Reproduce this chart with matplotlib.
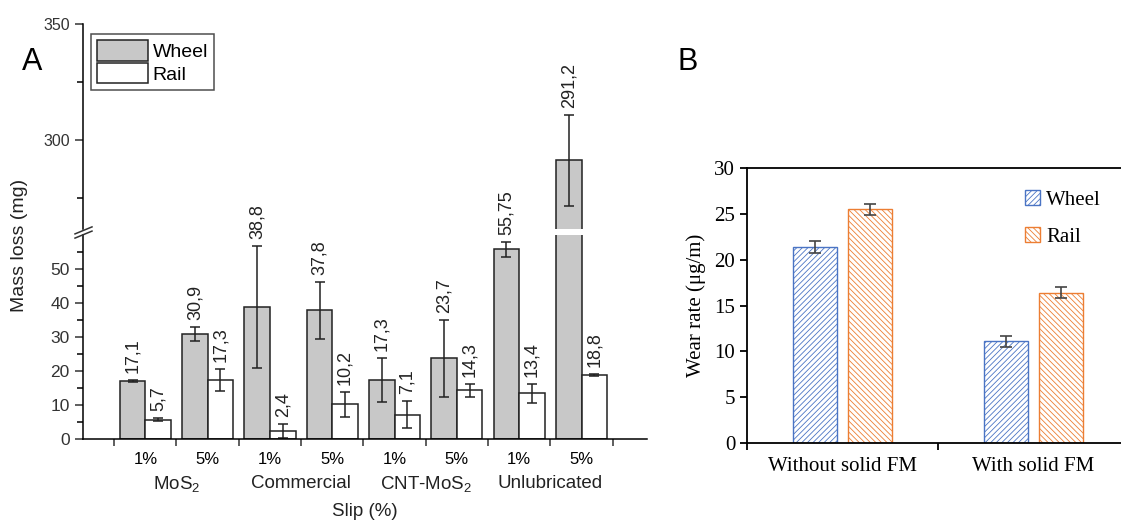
import numpy as np
import matplotlib.pyplot as plt

plt.rcParams['font.family'] = ['Liberation Sans', 'DejaVu Sans']
plt.rcParams['mathtext.default'] = 'regular'
plt.rcParams['hatch.linewidth'] = 0.6

# panel A data
slips = ['1%', '5%', '1%', '5%', '1%', '5%', '1%', '5%']
lubricants = ['MoS$_2$', 'Commercial', 'CNT-MoS$_2$', 'Unlubricated']
wheel_a = [17.1, 30.9, 38.8, 37.8, 17.3, 23.7, 55.75, 291.2]
wheel_a_err = [0.3, 2.0, 17.9, 8.5, 6.5, 11.4, 2.2, 19.5]
rail_a = [5.7, 17.3, 2.4, 10.2, 7.1, 14.3, 13.4, 18.8]
rail_a_err = [0.5, 3.3, 2.0, 3.6, 4.0, 2.0, 2.9, 0.3]
wheel_a_lbl = ['17,1', '30,9', '38,8', '37,8', '17,3', '23,7', '55,75', '291,2']
rail_a_lbl = ['5,7', '17,3', '2,4', '10,2', '7,1', '14,3', '13,4', '18,8']

# panel B data
conditions = ['Without solid FM', 'With solid FM']
wheel_b = [21.4, 11.1]
wheel_b_err = [0.65, 0.6]
rail_b = [25.5, 16.4]
rail_b_err = [0.6, 0.6]

W, H = 1121, 526
fig = plt.figure(figsize=(W / 100, H / 100), dpi=100)

def box(x0, y0, x1, y1):
    # pixel box (top-left origin) -> figure fraction
    return [x0 / W, 1 - y1 / H, (x1 - x0) / W, (y1 - y0) / H]

ax_lo = fig.add_axes(box(83, 235, 647, 439))
ax_hi = fig.add_axes(box(83, 24, 647, 229))
ax_hi.patch.set_visible(False)

x = np.arange(len(slips))
bw = 0.41
gray = '#c8c8c8'
ekw = dict(ecolor='#222222', elinewidth=1.1, capsize=3.5, capthick=1.1)

for ax in (ax_lo, ax_hi):
    ax.bar(x - bw / 2, wheel_a, bw, yerr=wheel_a_err, color=gray,
           edgecolor='#222222', linewidth=1.1, error_kw=ekw, label='Wheel')
    ax.bar(x + bw / 2, rail_a, bw, yerr=rail_a_err, color='white',
           edgecolor='#222222', linewidth=1.1, error_kw=ekw, label='Rail')
    ax.set_xlim(-1.0, 8.05)
    for s in ['top', 'right']:
        ax.spines[s].set_visible(False)
    ax.spines['left'].set_linewidth(1.1)
    ax.spines['bottom'].set_linewidth(1.1)
    ax.tick_params(colors='#333333', direction='out')

ax_lo.set_ylim(0, 60)
ax_hi.set_ylim(261.6, 350)
ax_hi.spines['bottom'].set_visible(False)
ax_hi.tick_params(axis='x', bottom=False, labelbottom=False)

ax_lo.set_yticks([0, 10, 20, 30, 40, 50])
ax_lo.set_yticks(np.arange(5, 60, 10), minor=True)
ax_hi.set_yticks([300, 350])
ax_hi.set_yticks([275, 325], minor=True)
ax_lo.tick_params(axis='y', which='major', length=6, width=1.1, labelsize=12.5)
ax_lo.tick_params(axis='y', which='minor', length=4, width=1.1)
ax_hi.tick_params(axis='y', which='major', length=6, width=1.1, labelsize=11.5)
ax_hi.tick_params(axis='y', which='minor', length=4, width=1.1)

ax_lo.set_xticks(np.arange(-0.5, 8, 1))
ax_lo.set_xticklabels([])
ax_lo.set_xticks(x, minor=True)
ax_lo.set_xticklabels(slips, minor=True)
ax_lo.tick_params(axis='x', which='major', length=5, width=1.1)
ax_lo.tick_params(axis='x', which='minor', length=0, pad=9, labelsize=12)

for i, name in enumerate(lubricants):
    ax_lo.text(2 * i + 0.5, -0.22, name, transform=ax_lo.get_xaxis_transform(),
               ha='center', va='center', fontsize=13.5, color='#222222')
ax_lo.text(0.5, -0.355, 'Slip (%)', transform=ax_lo.transAxes,
           ha='center', va='center', fontsize=13.5, color='#222222')
fig.text(20 / W, 1 - 245 / H, 'Mass loss (mg)', rotation=90, ha='center',
         va='center', fontsize=14, color='#222222')

# value labels
for i in range(len(x)):
    for xs, val, err, lbl in [(x[i] - bw / 2, wheel_a[i], wheel_a_err[i], wheel_a_lbl[i]),
                              (x[i] + bw / 2, rail_a[i], rail_a_err[i], rail_a_lbl[i])]:
        ax = ax_hi if val > 100 else ax_lo
        ax.annotate(lbl, (xs, val + err), xytext=(0, 5), textcoords='offset points',
                    rotation=90, ha='center', va='bottom', fontsize=13,
                    color='#222222', annotation_clip=False, zorder=5)

# break marks on the y axis
for dy in (-0.004, 0.004):
    fig.lines.append(plt.Line2D([75 / W, 92 / W],
                                [1 - (235 + 1) / H + dy, 1 - (235 - 6) / H + dy],
                                transform=fig.transFigure, color='#333333', lw=1.1))

leg = ax_hi.legend(loc='upper left', bbox_to_anchor=(0.015, 0.95), fontsize=14,
                   frameon=True, fancybox=False, edgecolor='#222222',
                   handlelength=2.6, handleheight=1.25, handletextpad=0.25,
                   labelspacing=0.1, borderpad=0.3, borderaxespad=0)
leg.get_frame().set_linewidth(1.1)

fig.text(22 / W, 1 - 62 / H, 'A', fontsize=22, ha='left', va='center')
fig.text(678 / W, 1 - 62 / H, 'B', fontsize=22, ha='left', va='center')

# panel B
serif = ['Liberation Serif', 'DejaVu Serif']
axb = fig.add_axes(box(747, 168, 1129, 443))
xb = np.arange(len(conditions))
off = 0.145
bwb = 0.23
ekb = dict(ecolor='#444444', elinewidth=1.2, capsize=4, capthick=1.2)
axb.bar(xb - off, wheel_b, bwb, yerr=wheel_b_err, color='white', edgecolor='#4a74c4',
        hatch='//////', linewidth=1.0, error_kw=ekb, label='Wheel')
axb.bar(xb + off, rail_b, bwb, yerr=rail_b_err, color='white', edgecolor='#ec7e33',
        hatch='\\\\\\\\\\\\', linewidth=1.0, error_kw=ekb, label='Rail')
axb.set_xlim(-0.5, 1.5)
axb.set_ylim(0, 30)
axb.set_yticks(np.arange(0, 31, 5))
axb.set_xticks([-0.5, 0.5])
axb.set_xticklabels([])
axb.set_xticks(xb, minor=True)
axb.set_xticklabels(conditions, minor=True, family=serif, fontsize=15)
axb.tick_params(axis='x', which='major', length=5, width=1.3)
axb.tick_params(axis='x', which='minor', length=0, pad=10)
axb.tick_params(axis='y', length=5, width=1.3, labelsize=15)
for lab in axb.get_yticklabels():
    lab.set_family(serif)
for s in axb.spines.values():
    s.set_linewidth(1.3)
axb.set_ylabel('Wear rate (μg/m)', family=serif, fontsize=15, labelpad=6)
axb.legend(loc='upper left', bbox_to_anchor=(0.728, 0.92), frameon=False,
           prop={'family': serif, 'size': 15}, handlelength=0.7, handleheight=0.7,
           handletextpad=0.3, labelspacing=0.85, borderaxespad=0, borderpad=0)

fig.savefig('out.png', dpi=100)
